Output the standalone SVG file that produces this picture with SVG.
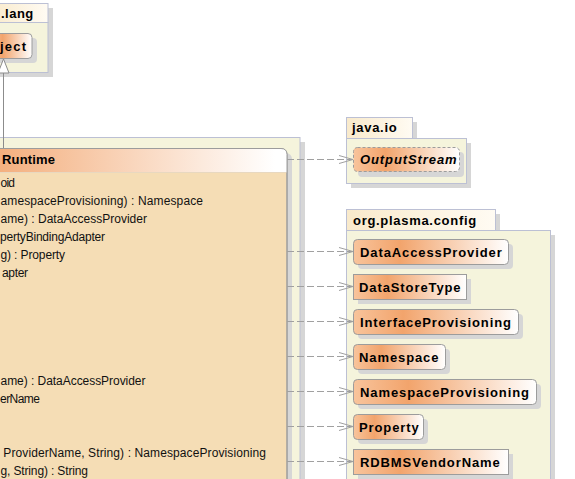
<svg xmlns="http://www.w3.org/2000/svg" width="575" height="479" viewBox="0 0 575 479">
<defs>
<linearGradient id="ng" x1="0" y1="0" x2="1" y2="0">
<stop offset="0" stop-color="#F8C49C"/>
<stop offset="0.3" stop-color="#F2A46C"/>
<stop offset="1" stop-color="#FFFFFF"/>
</linearGradient>
<linearGradient id="hg" gradientUnits="userSpaceOnUse" x1="-40" y1="0" x2="275" y2="0">
<stop offset="0" stop-color="#F2A46C"/>
<stop offset="1" stop-color="#FFFFFF"/>
</linearGradient>
<linearGradient id="tg" x1="0" y1="0" x2="1" y2="0">
<stop offset="0" stop-color="#F9EACB"/>
<stop offset="1" stop-color="#FFFBF3"/>
</linearGradient>
<marker id="open" markerWidth="16" markerHeight="12" refX="14" refY="5" orient="auto" markerUnits="userSpaceOnUse">
<path d="M0,1 L14,5 L0,9" fill="none" stroke="#A0A0A0" stroke-width="1"/>
</marker>
</defs>
<style>
.sh{fill:#D6D6D6}
.pk{fill:#F5F4DC;stroke:#BCC0D4;stroke-width:1}
.tab{fill:url(#tg);stroke:#BCC0D4;stroke-width:1}
.pt{font-family:"Liberation Sans",Arial,sans-serif;font-weight:bold;font-size:13px;letter-spacing:0.7px;fill:#000}
.nd{fill:url(#ng);stroke:#9C9C9C;stroke-width:1}
.nt{font-family:"Liberation Sans",Arial,sans-serif;font-weight:bold;font-size:13px;letter-spacing:0.9px;fill:#000}
.mt{font-family:"Liberation Sans",Arial,sans-serif;font-size:12px;fill:#111}
.dep{fill:none;stroke:#A0A0A0;stroke-width:1;stroke-dasharray:7,3}
</style>
<rect width="575" height="479" fill="#FFFFFF"/>

<g id="pkg-java-lang">
<rect class="sh" x="-5" y="8" width="58" height="19"/>
<rect class="sh" x="-5" y="27" width="58" height="50"/>
<rect class="tab" x="-10" y="3.5" width="58" height="19"/>
<rect class="pk" x="-10" y="22.5" width="58" height="50"/>
<text class="pt" x="1" y="18" textLength="33" lengthAdjust="spacing">.lang</text>
</g>
<g id="node-object">
<rect class="sh" x="-5" y="38" width="42" height="25" rx="4"/>
<rect class="nd" x="-10" y="33.5" width="42" height="25" rx="4"/>
<text class="nt" x="0" y="51" textLength="27" lengthAdjust="spacing">ject</text>
</g>

<g id="pkg-main">
<rect class="sh" x="-5" y="142" width="310" height="360"/>
<rect class="pk" x="-10" y="137.5" width="310" height="360"/>
</g>
<g id="node-runtime">
<rect class="sh" x="-5" y="153" width="297" height="340" rx="6"/>
<rect x="-10" y="148.5" width="297" height="340" rx="6" fill="#F5DDB5" stroke="#9C9C9C"/>
<path d="M-10,172.5 L-10,154.5 Q-10,148.5 -4,148.5 L281,148.5 Q287,148.5 287,154.5 L287,172.5 Z" fill="url(#hg)"/>
<line x1="-10" y1="172.5" x2="287" y2="172.5" stroke="#E8D8C0"/>
<path d="M-10,148.5 L281,148.5 Q287,148.5 287,154.5 L287,488" fill="none" stroke="#9C9C9C"/>
<text class="nt" x="2" y="164" textLength="54" lengthAdjust="spacing">Runtime</text>
<text class="mt" x="0.5" y="187" textLength="14.5" lengthAdjust="spacing">oid</text>
<text class="mt" x="0.5" y="205" textLength="202.5" lengthAdjust="spacing">amespaceProvisioning) : Namespace</text>
<text class="mt" x="0.5" y="223" textLength="146.5" lengthAdjust="spacing">ame) : DataAccessProvider</text>
<text class="mt" x="0" y="241" textLength="105" lengthAdjust="spacing">pertyBindingAdapter</text>
<text class="mt" x="0.5" y="259" textLength="64.5" lengthAdjust="spacing">g) : Property</text>
<text class="mt" x="2" y="277" textLength="26" lengthAdjust="spacing">apter</text>
<text class="mt" x="0.5" y="385" textLength="145" lengthAdjust="spacing">ame) : DataAccessProvider</text>
<text class="mt" x="0" y="403" textLength="40" lengthAdjust="spacing">erName</text>
<text class="mt" x="3.3" y="457" textLength="262.7" lengthAdjust="spacing">ProviderName, String) : NamespaceProvisioning</text>
<text class="mt" x="0.5" y="475" textLength="87.5" lengthAdjust="spacing">g, String) : String</text>
</g>

<g id="pkg-java-io">
<rect class="sh" x="351" y="122" width="66" height="21"/>
<rect class="sh" x="351" y="143" width="120" height="45"/>
<rect class="tab" x="346.5" y="117.5" width="66" height="21"/>
<rect class="pk" x="346.5" y="138.5" width="120" height="45"/>
<text class="pt" x="352" y="132">java.io</text>
</g>
<g id="node-outputstream">
<rect class="sh" x="358" y="152" width="106" height="25" rx="4"/>
<rect class="nd" x="353.5" y="147.5" width="106" height="24" rx="4" stroke-dasharray="3,2"/>
<text class="nt" x="360" y="164" font-style="italic">OutputStream</text>
</g>

<g id="pkg-org-plasma-config">
<rect class="sh" x="351" y="214" width="149" height="21"/>
<rect class="sh" x="351" y="235" width="204" height="260"/>
<rect class="tab" x="346.5" y="209.5" width="149" height="21"/>
<rect class="pk" x="346.5" y="230.5" width="204" height="260"/>
<text class="pt" x="353" y="225">org.plasma.config</text>
</g>
<g id="node-dataaccessprovider">
<rect class="sh" x="358" y="244" width="155" height="25" rx="4"/>
<rect class="nd" x="353.5" y="239.5" width="155" height="25" rx="4"/>
<text class="nt" x="360" y="256.5">DataAccessProvider</text>
</g>
<g id="node-datastoretype">
<rect class="sh" x="358" y="279" width="113" height="25"/>
<rect class="nd" x="353.5" y="274.5" width="113" height="25"/>
<text class="nt" x="359" y="291.5">DataStoreType</text>
</g>
<g id="node-interfaceprovisioning">
<rect class="sh" x="358" y="314" width="165" height="25" rx="4"/>
<rect class="nd" x="353.5" y="309.5" width="165" height="25" rx="4"/>
<text class="nt" x="360" y="326.5">InterfaceProvisioning</text>
</g>
<g id="node-namespace">
<rect class="sh" x="358" y="349" width="92" height="25" rx="4"/>
<rect class="nd" x="353.5" y="344.5" width="92" height="25" rx="4"/>
<text class="nt" x="359" y="361.5">Namespace</text>
</g>
<g id="node-namespaceprovisioning">
<rect class="sh" x="358" y="384" width="183" height="25" rx="4"/>
<rect class="nd" x="353.5" y="379.5" width="183" height="25" rx="4"/>
<text class="nt" x="360" y="396.5">NamespaceProvisioning</text>
</g>
<g id="node-property">
<rect class="sh" x="358" y="419" width="70" height="25" rx="4"/>
<rect class="nd" x="353.5" y="414.5" width="70" height="25" rx="4"/>
<text class="nt" x="359" y="431.5">Property</text>
</g>
<g id="node-rdbmsvendorname">
<rect class="sh" x="358" y="454" width="155" height="25"/>
<rect class="nd" x="353.5" y="449.5" width="155" height="25"/>
<text class="nt" x="360" y="466.5">RDBMSVendorName</text>
</g>

<g id="connectors">
<line x1="3.5" y1="73" x2="3.5" y2="148" stroke="#8C8C8C"/>
<path d="M3.5,59 L9,73 L-2,73 Z" fill="#FFFFFF" stroke="#8C8C8C"/>
<line class="dep" x1="287" y1="159.5" x2="353" y2="159.5" marker-end="url(#open)"/>
<line class="dep" x1="287" y1="251.5" x2="353" y2="251.5" marker-end="url(#open)"/>
<line class="dep" x1="287" y1="286.5" x2="353" y2="286.5" marker-end="url(#open)"/>
<line class="dep" x1="287" y1="321.5" x2="353" y2="321.5" marker-end="url(#open)"/>
<line class="dep" x1="287" y1="356.5" x2="353" y2="356.5" marker-end="url(#open)"/>
<line class="dep" x1="287" y1="391.5" x2="353" y2="391.5" marker-end="url(#open)"/>
<line class="dep" x1="287" y1="426.5" x2="353" y2="426.5" marker-end="url(#open)"/>
<line class="dep" x1="287" y1="461.5" x2="353" y2="461.5" marker-end="url(#open)"/>
</g>
</svg>
